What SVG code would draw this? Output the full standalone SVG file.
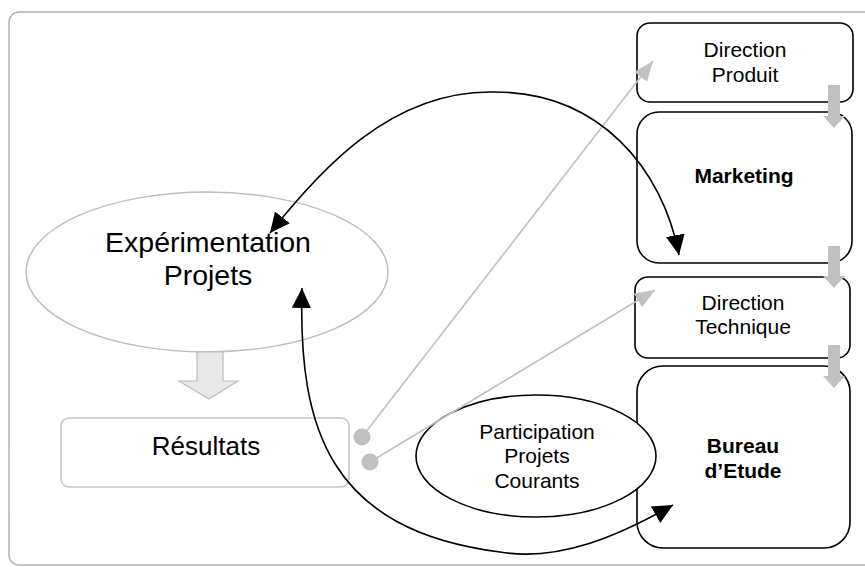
<svg xmlns="http://www.w3.org/2000/svg" width="865" height="567" viewBox="0 0 865 567">
<style>
  text { font-family: "Liberation Sans", Arial, sans-serif; fill: #000; text-anchor: middle; }
  .box { fill: #fff; stroke: #000; stroke-width: 1.6; }
  .gbox { fill: #fff; stroke: #c4c4c4; stroke-width: 1.5; }
  .gline { fill: none; stroke: #c0c0c0; stroke-width: 1.6; }
  .bline { fill: none; stroke: #000; stroke-width: 1.6; }
  .garrow { fill: #c0c0c0; stroke: none; }
  .bold { font-weight: bold; }
</style>
<defs>
  <marker id="bh" markerUnits="userSpaceOnUse" markerWidth="22" markerHeight="20" refX="20" refY="9.5" orient="auto-start-reverse">
    <path d="M0,0 L20,9.5 L0,19 z" fill="#000"/>
  </marker>
  <marker id="gh" markerUnits="userSpaceOnUse" markerWidth="22" markerHeight="18" refX="20" refY="8" orient="auto">
    <path d="M0,0 L20,8 L0,16 z" fill="#c0c0c0"/>
  </marker>
</defs>
<rect width="865" height="567" fill="#fff"/>
<rect x="9" y="12" width="900" height="553" rx="10" fill="none" stroke="#b3b3b3" stroke-width="1.5"/>

<g id="experimentation">
  <ellipse cx="207" cy="272" rx="181" ry="80" fill="#fff" stroke="#bdbdbd" stroke-width="1.5"/>
  <text x="208" y="252" font-size="28.5">Expérimentation</text>
  <text x="208" y="285" font-size="28.5">Projets</text>
</g>

<g id="fleche-resultats">
  <path d="M197,352 L223,352 L223,381 L238,381 L209,399 L179,381 L197,381 z" fill="#e8e8e8" stroke="#bdbdbd" stroke-width="1.2"/>
</g>

<g id="resultats">
  <rect x="61" y="418" width="288" height="69" rx="8" class="gbox"/>
  <text x="206" y="455" font-size="26">Résultats</text>
</g>

<g id="direction-produit">
  <rect x="637" y="23" width="216" height="79" rx="13" class="box"/>
  <text x="745" y="57" font-size="21">Direction</text>
  <text x="745" y="82" font-size="21">Produit</text>
</g>

<g id="marketing">
  <rect x="637" y="112" width="215" height="151" rx="22" class="box"/>
  <text x="744" y="183" font-size="21" class="bold">Marketing</text>
</g>

<g id="direction-technique">
  <rect x="635" y="277" width="215" height="81" rx="13" class="box"/>
  <text x="743" y="310" font-size="21">Direction</text>
  <text x="743" y="334" font-size="21">Technique</text>
</g>

<g id="bureau-etude">
  <rect x="637" y="366" width="213" height="182" rx="26" class="box"/>
  <text x="743" y="453" font-size="21" class="bold">Bureau</text>
  <text x="743" y="478" font-size="21" class="bold">d’Etude</text>
</g>

<g id="participation">
  <ellipse cx="536" cy="456" rx="120" ry="61" fill="#fff" stroke="#000" stroke-width="1.6"/>
  <text x="537" y="439" font-size="21">Participation</text>
  <text x="537" y="463" font-size="21">Projets</text>
  <text x="537" y="488" font-size="21">Courants</text>
</g>

<g id="connectors">
  <path class="garrow" d="M828,85 L840,85 L840,116 L845,116 L834,128 L823,116 L828,116 z"/>
  <path class="garrow" d="M828,246 L840,246 L840,276 L845,276 L834,288 L823,276 L828,276 z"/>
  <path class="garrow" d="M828,345 L840,345 L840,376 L845,376 L834,388 L823,376 L828,376 z"/>

  <circle cx="362" cy="437" r="8.5" fill="#c0c0c0"/>
  <circle cx="370" cy="462" r="8.5" fill="#c0c0c0"/>
  <line class="gline" x1="362" y1="437" x2="653" y2="61" marker-end="url(#gh)"/>
  <line class="gline" x1="370" y1="462" x2="655" y2="290" marker-end="url(#gh)"/>

  <path class="bline" d="M270,233 C320,170 390,92 490,92 C600,90 663,170 679,255" marker-start="url(#bh)" marker-end="url(#bh)"/>
  <path class="bline" d="M673,505 C620,535 560,562 500,552 C330,530 298,430 302,288" marker-start="url(#bh)" marker-end="url(#bh)"/>
</g>
</svg>
